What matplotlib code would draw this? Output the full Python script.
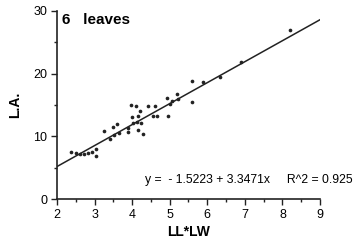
import numpy as np
import matplotlib
matplotlib.use('Agg')
import matplotlib.pyplot as plt

plt.rcParams['font.family'] = ['Liberation Sans', 'DejaVu Sans']

# leaf length * leaf width vs. leaf area, 6 leaves
ll_lw = [2.37, 2.50, 2.62, 2.72, 2.83, 2.93, 3.04, 3.04, 3.25, 3.41,
         3.49, 3.52, 3.60, 3.65, 3.88, 3.88, 3.97, 4.00, 4.02, 4.10,
         4.13, 4.15, 4.15, 4.20, 4.25, 4.29, 4.42, 4.55, 4.60, 4.65,
         4.92, 4.95, 5.00, 5.05, 5.20, 5.22, 5.60, 5.60, 5.88, 6.35,
         6.90, 8.20]
leaf_area = [7.5, 7.4, 7.2, 7.2, 7.4, 7.5, 8.0, 6.9, 10.8, 9.6,
             11.5, 10.2, 12.0, 10.5, 11.3, 10.7, 15.0, 13.1, 12.1, 14.8,
             12.3, 13.3, 11.0, 14.0, 12.1, 10.4, 14.8, 13.2, 14.8, 13.2,
             16.1, 13.2, 15.2, 15.6, 16.7, 15.9, 18.8, 15.5, 18.6, 19.4,
             21.9, 26.9]
intercept = -1.5223
slope = 3.3471
r2 = 0.925

fig = plt.figure(figsize=(3.58, 2.43), dpi=100)
ax = fig.add_axes([0.159, 0.181, 0.735, 0.774])

ax.scatter(ll_lw, leaf_area, s=7, color='#222222', zorder=3, linewidths=0)
xfit = np.array([2, 9])
ax.plot(xfit, intercept + slope * xfit, color='#222222', lw=1.1)

ax.set_xlim(2, 9)
ax.set_ylim(0, 30)
ax.set_xticks(range(2, 10))
ax.set_xticks(np.arange(2.5, 9, 1), minor=True)
ax.set_yticks([0, 10, 20, 30])
ax.set_yticks([5, 15, 25], minor=True)
for s in ['top', 'right']:
    ax.spines[s].set_visible(False)
for s in ['left', 'bottom']:
    ax.spines[s].set_linewidth(1.2)
    ax.spines[s].set_color('#222222')
ax.tick_params(which='major', length=4, width=1, direction='out', labelsize=9, pad=3, color='#222222')
ax.tick_params(which='minor', length=2, width=1, direction='out', color='#222222')

ax.set_xlabel('LL*LW', fontsize=10, labelpad=3, fontweight='bold')
ax.set_ylabel('L.A.', fontsize=10, labelpad=8, fontweight='bold')

ax.text(0.02, 0.95, '6   leaves', transform=ax.transAxes, fontsize=11,
        fontweight='bold', va='center', ha='left')
fig.text(0.405, 0.26, 'y =  - 1.5223 + 3.3471x     R^2 = %.3f' % r2,
         fontsize=8.8, va='center', ha='left')

plt.savefig('out.png', dpi=100)
